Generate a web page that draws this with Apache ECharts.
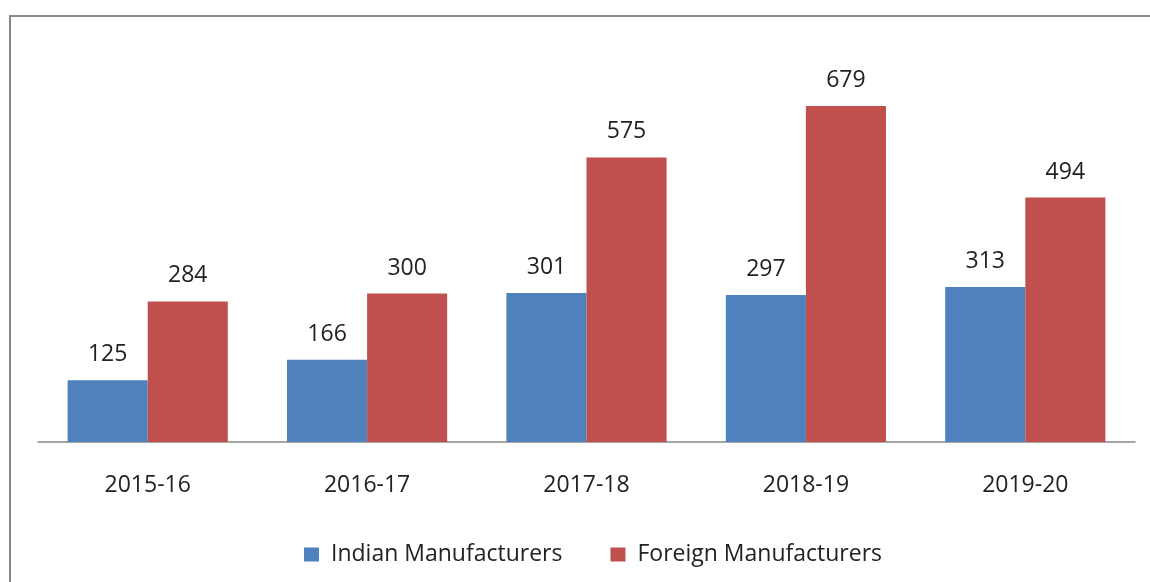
<!DOCTYPE html>
<html>
<head>
<meta charset="utf-8">
<script src="https://cdn.jsdelivr.net/npm/echarts@6/dist/echarts.min.js"></script>
<style>
  html, body { margin: 0; padding: 0; background: #fff; }
  #chart { width: 1150px; height: 582px; }
</style>
</head>
<body>
<div id="chart"></div>
<script>
var years = ["2015-16", "2016-17", "2017-18", "2018-19", "2019-20"];
var indian = [125, 166, 301, 297, 313];
var foreign = [284, 300, 575, 679, 494];
var seriesNames = ["Indian Manufacturers", "Foreign Manufacturers"];

var fontFamily = "'Open Sans', sans-serif";

var myChart = echarts.init(document.getElementById("chart"));
myChart.setOption({
  animation: false,
  color: ["#4F81BD", "#C0504D"],
  textStyle: { fontFamily: fontFamily },
  graphic: [
    {
      type: "rect",
      shape: { x: 10, y: 16, width: 1200, height: 700 },
      style: { fill: "none", stroke: "#888", lineWidth: 2 },
      silent: true
    }
  ],
  grid: {
    left: 38,
    right: 15,
    top: 46,
    bottom: 140
  },
  legend: {
    bottom: 11,
    left: 299,
    itemWidth: 15,
    itemHeight: 14,
    itemGap: 48,
    icon: "rect",
    textStyle: { fontSize: 23, color: "#222", fontFamily: fontFamily, padding: [0, 0, 0, 7] },
    data: seriesNames
  },
  xAxis: {
    type: "category",
    data: years,
    axisLine: { lineStyle: { color: "#888", width: 1.5 } },
    axisTick: { show: false },
    axisLabel: { fontSize: 23, color: "#222", margin: 32 }
  },
  yAxis: {
    type: "value",
    min: 0,
    max: 800,
    show: false,
    splitLine: { show: false }
  },
  series: [
    {
      name: seriesNames[0],
      type: "bar",
      data: indian,
      barGap: "0%",
      barCategoryGap: "27%",
      label: { show: true, position: "top", distance: 14, fontSize: 23, color: "#222" }
    },
    {
      name: seriesNames[1],
      type: "bar",
      data: foreign,
      barGap: "0%",
      barCategoryGap: "27%",
      label: { show: true, position: "top", distance: 14, fontSize: 23, color: "#222" }
    }
  ]
});
</script>
</body>
</html>
